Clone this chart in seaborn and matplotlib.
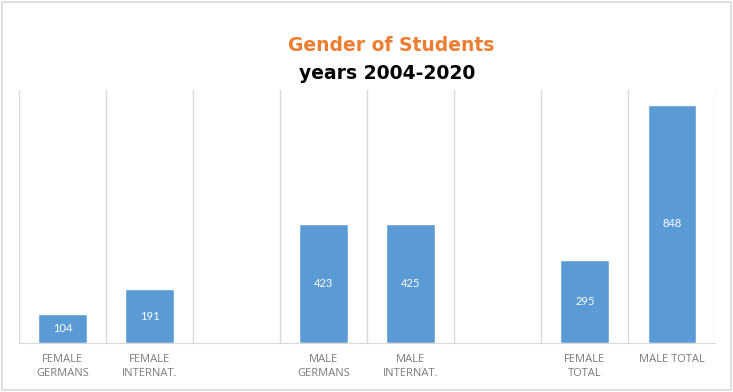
import numpy as np
import pandas as pd
import matplotlib
matplotlib.use("Agg")
import matplotlib.pyplot as plt
import seaborn as sns
from matplotlib.patches import Rectangle

# --- data ---
categories = ["FEMALE\nGERMANS", "FEMALE\nINTERNAT.", "", "MALE\nGERMANS",
              "MALE\nINTERNAT.", " ", "FEMALE\nTOTAL", "MALE TOTAL"]
students = [104, 191, np.nan, 423, 425, np.nan, 295, 848]
title_line1 = "Gender of Students"
title_line2 = "years 2004-2020"

df = pd.DataFrame({"category": categories, "students": students})

sns.set_style("white")
plt.rcParams["font.family"] = ["Lato", "DejaVu Sans"]

fig = plt.figure(figsize=(7.33, 3.92), dpi=100)
ax = fig.add_axes([0.026, 0.125, 0.950, 0.645])

sns.barplot(data=df.dropna(), x="category", y="students", order=categories,
            color="#5B9BD5", saturation=1, width=0.56, ax=ax)

# labels in the middle of each bar
for p in ax.patches:
    h = p.get_height()
    if np.isnan(h) or h == 0:
        continue
    ax.text(p.get_x() + p.get_width() / 2, h / 2, f"{int(h)}",
            ha="center", va="center", color="white", fontsize=8)

ax.set_ylim(0, 900)
ax.set_xlim(-0.5, len(categories) - 0.5)
ax.set_yticks([])
ax.set_xlabel("")
ax.set_ylabel("")

# vertical separators between categories
ax.set_xticks(np.arange(-0.5, len(categories), 1.0), minor=True)
ax.grid(which="minor", axis="x", color="#d9d9d9", linewidth=1)
ax.tick_params(axis="x", which="both", length=0, pad=8)
ax.set_xticklabels(categories, fontsize=8, color="#7a7a7a", linespacing=1.35,
                   family=["Open Sans", "DejaVu Sans"])

for side in ["top", "left", "right"]:
    ax.spines[side].set_visible(False)
ax.spines["bottom"].set_color("#d9d9d9")

fig.text(0.534, 0.885, title_line1, ha="center", va="center",
         fontsize=13.5, fontweight="bold", color="#ED7D31",
         family="DejaVu Sans")
fig.text(0.528, 0.813, title_line2, ha="center", va="center",
         fontsize=13.5, fontweight="bold", color="black",
         family="DejaVu Sans")

# outer chart border
fig.patches.append(Rectangle((0.003, 0.005), 0.994, 0.99, transform=fig.transFigure,
                             fill=False, edgecolor="#d9d9d9", linewidth=1.2))

fig.savefig("out.png", dpi=100)
